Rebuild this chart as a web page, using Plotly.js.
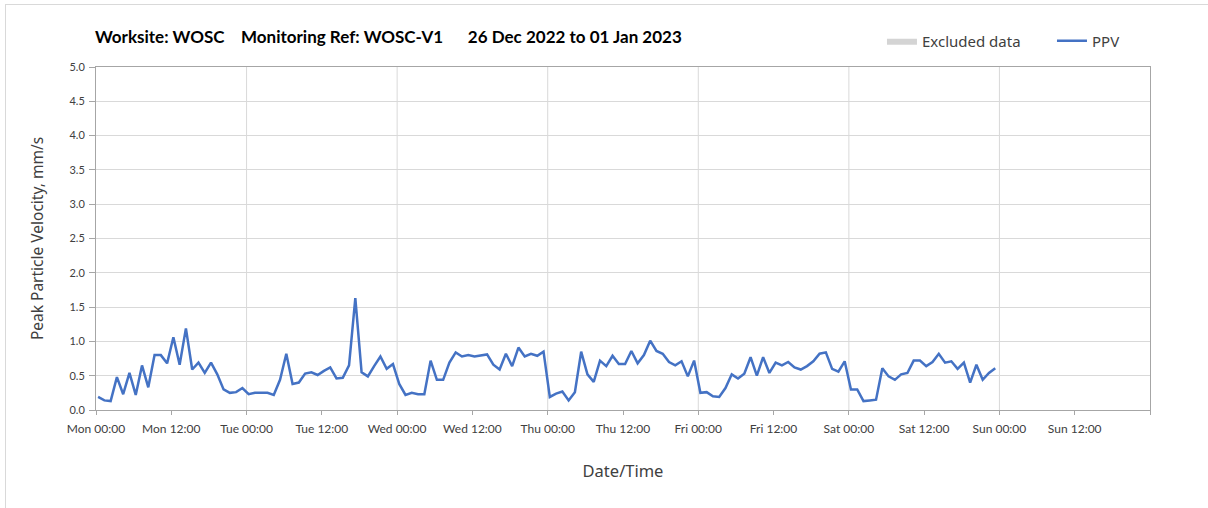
<!DOCTYPE html>
<html>
<head>
<meta charset="utf-8">
<script src="https://cdn.plot.ly/plotly-3.0.1.min.js"></script>
<style>
  html, body { margin: 0; padding: 0; background: #ffffff; }
  #frame { position: absolute; left: 5px; top: 4px; width: 1300px; height: 600px;
           border-left: 1px solid #d9d9d9; border-top: 1px solid #d9d9d9; }
  #chart { position: absolute; left: 0; top: 0; width: 1208px; height: 508px; }
</style>
</head>
<body>
<div id="frame"></div>
<div id="chart"></div>
<script>
// ---- Data ----
const seriesName = 'PPV';
const excludedName = 'Excluded data';
const startTime = Date.UTC(2022, 11, 26, 0, 20);   // first reading, Mon 26 Dec 2022 00:20
const stepMinutes = 60;                             // hourly readings
const ppv = [
  0.19, 0.14, 0.13, 0.48, 0.23, 0.54, 0.22, 0.65, 0.33, 0.80, 0.80, 0.68,
  1.06, 0.66, 1.19, 0.59, 0.69, 0.54, 0.69, 0.52, 0.30, 0.25, 0.26, 0.32,
  0.23, 0.25, 0.25, 0.25, 0.22, 0.44, 0.82, 0.38, 0.40, 0.53, 0.55, 0.51,
  0.57, 0.62, 0.46, 0.47, 0.65, 1.63, 0.55, 0.49, 0.64, 0.78, 0.60, 0.67,
  0.38, 0.22, 0.25, 0.23, 0.23, 0.72, 0.44, 0.44, 0.69, 0.84, 0.78, 0.80,
  0.78, 0.80, 0.81, 0.66, 0.59, 0.82, 0.64, 0.91, 0.78, 0.82, 0.79, 0.85,
  0.19, 0.24, 0.27, 0.14, 0.26, 0.85, 0.52, 0.41, 0.72, 0.64, 0.79, 0.67,
  0.67, 0.86, 0.68, 0.80, 1.01, 0.86, 0.82, 0.70, 0.65, 0.71, 0.49, 0.72,
  0.25, 0.26, 0.20, 0.19, 0.32, 0.52, 0.46, 0.53, 0.77, 0.50, 0.77, 0.54,
  0.69, 0.65, 0.70, 0.62, 0.59, 0.64, 0.71, 0.82, 0.84, 0.60, 0.56, 0.71,
  0.30, 0.30, 0.13, 0.14, 0.15, 0.61, 0.49, 0.44, 0.52, 0.54, 0.72, 0.72,
  0.64, 0.70, 0.82, 0.69, 0.71, 0.60, 0.69, 0.40, 0.66, 0.44, 0.54, 0.61
];
const axisStart = Date.UTC(2022, 11, 26, 0, 0);
const axisEnd = Date.UTC(2023, 0, 2, 0, 0);
const tickStepHours = 12;
const tickLabels = [
  'Mon 00:00', 'Mon 12:00', 'Tue 00:00', 'Tue 12:00', 'Wed 00:00', 'Wed 12:00',
  'Thu 00:00', 'Thu 12:00', 'Fri 00:00', 'Fri 12:00', 'Sat 00:00', 'Sat 12:00',
  'Sun 00:00', 'Sun 12:00', ''
];
const titleText = 'Worksite:\u00A0WOSC\u00A0\u00A0\u00A0\u00A0Monitoring Ref:\u00A0WOSC-V1\u00A0\u00A0\u00A0\u00A0\u00A0\u00A026 Dec 2022 to 01 Jan 2023';

// ---- Build ----
function fmt(ms) { return new Date(ms).toISOString().slice(0, 19).replace('T', ' '); }
const times = ppv.map((_, i) => fmt(startTime + i * stepMinutes * 60000));
const tickVals = tickLabels.map((_, i) => fmt(axisStart + i * tickStepHours * 3600000));
const dayLines = [];
for (let t = axisStart + 86400000; t < axisEnd; t += 86400000) dayLines.push(fmt(t));

const gridColor = '#d9d9d9';
const axisColor = '#a6a6a6';
const textColor = '#404040';

const traces = [
  {
    name: excludedName, x: [null], y: [null], type: 'scatter', mode: 'lines',
    fill: 'toself', fillcolor: '#d4d4d4', line: { width: 0, color: '#d4d4d4' },
    hoverinfo: 'skip', legend: 'legend'
  },
  {
    name: seriesName, x: times, y: ppv, type: 'scatter', mode: 'lines',
    line: { color: '#4472C4', width: 2.5 }, legend: 'legend2'
  }
];

const legendFont = { family: 'Noto Sans, sans-serif', size: 15, color: textColor };
const layout = {
  width: 1208, height: 508,
  margin: { l: 96, r: 58, t: 67, b: 97.5, pad: 0, autoexpand: false },
  paper_bgcolor: 'rgba(0,0,0,0)', plot_bgcolor: '#ffffff',
  font: { family: 'Noto Sans, sans-serif', color: textColor },
  showlegend: true,
  legend: {
    orientation: 'h', x: 0.7457, xanchor: 'left', y: 1.076, yanchor: 'middle',
    font: legendFont, itemwidth: 30, bgcolor: 'rgba(0,0,0,0)'
  },
  legend2: {
    orientation: 'h', x: 0.907, xanchor: 'left', y: 1.076, yanchor: 'middle',
    font: legendFont, itemwidth: 30, bgcolor: 'rgba(0,0,0,0)'
  },
  annotations: [{
    text: titleText, xref: 'paper', yref: 'paper', x: -0.003, xanchor: 'left',
    y: 1.09, yanchor: 'middle', showarrow: false,
    font: { family: 'Lato, sans-serif', size: 17, color: '#000000', weight: 'bold' }
  }],
  xaxis: {
    type: 'date', range: [fmt(axisStart), fmt(axisEnd)],
    tickmode: 'array', tickvals: tickVals, ticktext: tickLabels,
    ticks: 'outside', ticklen: 4, tickcolor: axisColor, tickwidth: 1,
    ticklabelstandoff: 4,
    showgrid: false, showline: true, linecolor: axisColor, linewidth: 1, mirror: true,
    zeroline: false,
    tickfont: { family: 'Lato, sans-serif', size: 12, color: textColor },
    title: { text: 'Date/Time', standoff: 30, font: { family: 'Noto Sans, sans-serif', size: 16.5, color: textColor } }
  },
  yaxis: {
    range: [0, 5], dtick: 0.5, tick0: 0, tickformat: '.1f',
    ticks: 'outside', ticklen: 6, tickcolor: axisColor, tickwidth: 1,
    ticklabelstandoff: 2,
    showgrid: true, gridcolor: gridColor, gridwidth: 1,
    showline: true, linecolor: axisColor, linewidth: 1, mirror: true,
    zeroline: false,
    tickfont: { family: 'Lato, sans-serif', size: 11, color: textColor },
    title: { text: 'Peak Particle Velocity, mm/s', standoff: 22, font: { family: 'Noto Sans, sans-serif', size: 15.5, color: textColor } }
  },
  shapes: dayLines.map(d => ({
    type: 'line', xref: 'x', yref: 'paper', x0: d, x1: d, y0: 0, y1: 1,
    line: { color: gridColor, width: 1 }, layer: 'below'
  }))
};

Plotly.newPlot('chart', traces, layout, { displayModeBar: false, staticPlot: true });
</script>
</body>
</html>
